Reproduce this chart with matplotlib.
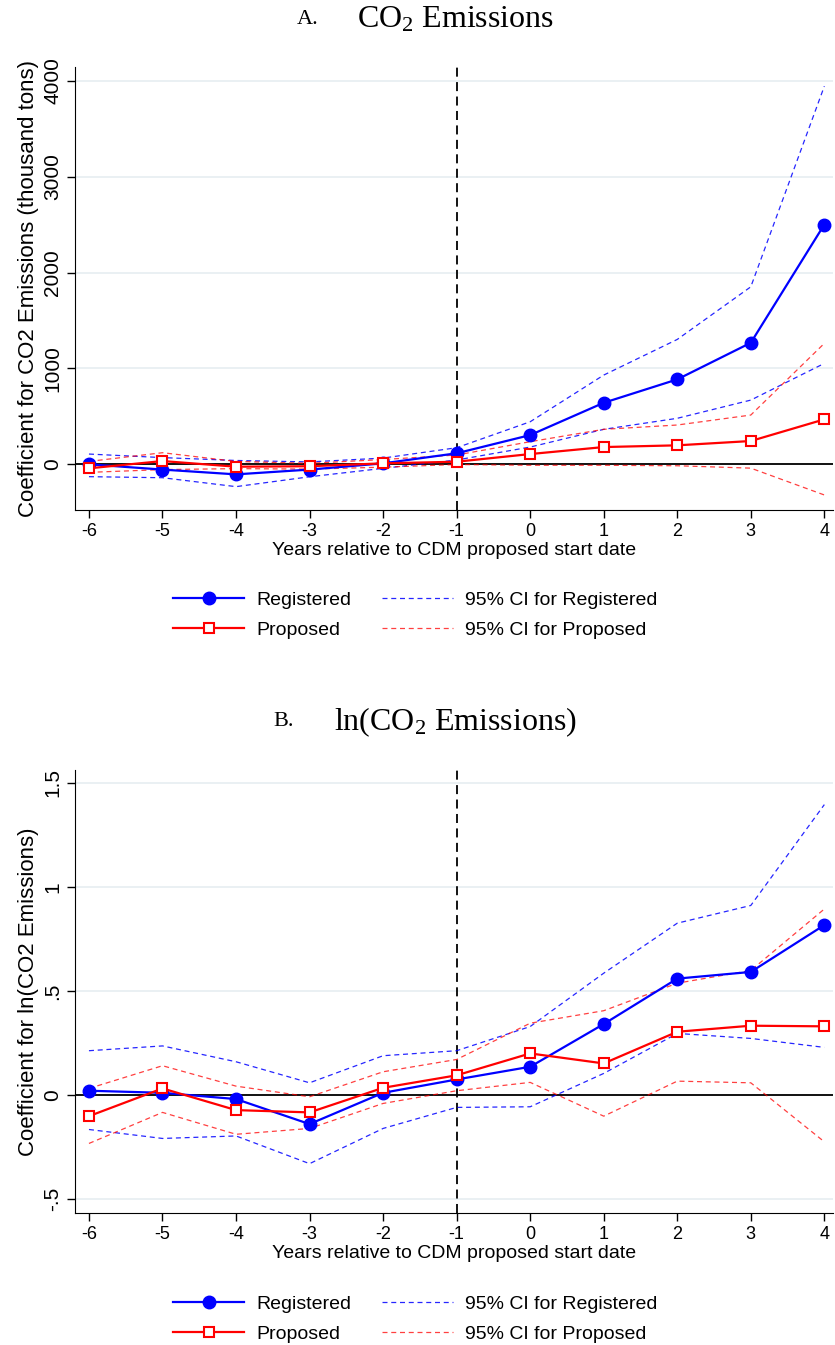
import numpy as np
import matplotlib
matplotlib.use("Agg")
import matplotlib.pyplot as plt
from matplotlib.lines import Line2D

plt.rcParams['font.family'] = ['Liberation Sans', 'DejaVu Sans']
plt.rcParams['mathtext.fontset'] = 'custom'
plt.rcParams['mathtext.rm'] = 'Liberation Serif'
plt.rcParams['mathtext.it'] = 'Liberation Serif:italic'

years = [-6, -5, -4, -3, -2, -1, 0, 1, 2, 3, 4]

# panel A: CO2 emissions, thousand tons
co2_reg = [0, -55, -105, -55, 10, 115, 305, 642, 886, 1268, 2502]
co2_reg_hi = [107, 70, 40, 25, 65, 173, 444, 931, 1303, 1852, 3945]
co2_reg_lo = [-129, -140, -233, -130, -42, 45, 180, 365, 480, 670, 1053]
co2_prop = [-42, 34, -25, -20, 10, 27, 107, 180, 198, 243, 469]
co2_prop_hi = [30, 121, 30, 10, 50, 97, 236, 365, 410, 514, 1262]
co2_prop_lo = [-84, -55, -45, -50, -30, -2, -10, -10, -15, -40, -320]

# panel B: log emissions
ln_reg = [0.021, 0.011, -0.019, -0.139, 0.011, 0.075, 0.136, 0.341, 0.559, 0.591, 0.816]
ln_reg_hi = [0.213, 0.236, 0.160, 0.059, 0.189, 0.213, 0.329, 0.585, 0.825, 0.910, 1.394]
ln_reg_lo = [-0.165, -0.208, -0.196, -0.329, -0.160, -0.059, -0.056, 0.104, 0.296, 0.272, 0.229]
ln_prop = [-0.101, 0.032, -0.072, -0.083, 0.035, 0.095, 0.200, 0.152, 0.304, 0.333, 0.330]
ln_prop_hi = [0.032, 0.141, 0.043, -0.008, 0.112, 0.171, 0.345, 0.405, 0.537, 0.598, 0.893]
ln_prop_lo = [-0.232, -0.083, -0.188, -0.160, -0.040, 0.021, 0.061, -0.101, 0.067, 0.059, -0.224]

BLUE = '#0000ff'
RED = '#ff0000'
GRID = '#e8eff2'

fig = plt.figure(figsize=(8.35, 13.45), dpi=100)
axA = fig.add_axes([0.0898, 0.6208, 0.908, 0.3292])
axB = fig.add_axes([0.0898, 0.0981, 0.908, 0.3294])


def draw_panel(ax, reg, reg_hi, reg_lo, prop, prop_hi, prop_lo, yticks, ylabels, ylim, ylabel):
    for t in yticks:
        ax.axhline(t, color=GRID, lw=1.3, zorder=0)
    ax.axhline(0, color='black', lw=1.3, zorder=1)
    ax.axvline(-1, color='black', lw=1.3, ls=(0, (5, 3)), zorder=1)
    ax.plot(years, reg_hi, color=BLUE, lw=0.9, ls=(0, (4, 3)), alpha=0.85, zorder=2)
    ax.plot(years, reg_lo, color=BLUE, lw=0.9, ls=(0, (4, 3)), alpha=0.85, zorder=2)
    ax.plot(years, prop_hi, color=RED, lw=0.9, ls=(0, (4, 3)), alpha=0.75, zorder=2)
    ax.plot(years, prop_lo, color=RED, lw=0.9, ls=(0, (4, 3)), alpha=0.75, zorder=2)
    ax.plot(years, reg, color=BLUE, lw=1.6, marker='o', ms=9, zorder=3)
    ax.plot(years, prop, color=RED, lw=1.6, marker='s', ms=7.5, mfc='white',
            mec=RED, mew=1.5, zorder=4)
    ax.set_xlim(-6.19, 4.12)
    ax.set_ylim(*ylim)
    ax.set_xticks(years)
    ax.set_xticklabels([str(y) for y in years], fontsize=13)
    ax.set_yticks(yticks)
    ax.set_yticklabels(ylabels, fontsize=15, rotation=90, va='center')
    ax.tick_params(length=6, width=1, color='black', pad=3)
    ax.spines['top'].set_visible(False)
    ax.spines['right'].set_visible(False)
    ax.set_xlabel('Years relative to CDM proposed start date', fontsize=14, labelpad=2)
    ax.set_ylabel(ylabel, fontsize=16, labelpad=3)


draw_panel(axA, co2_reg, co2_reg_hi, co2_reg_lo, co2_prop, co2_prop_hi, co2_prop_lo,
           [0, 1000, 2000, 3000, 4000], ['0', '1000', '2000', '3000', '4000'],
           (-477, 4143), 'Coefficient for CO2 Emissions (thousand tons)')
draw_panel(axB, ln_reg, ln_reg_hi, ln_reg_lo, ln_prop, ln_prop_hi, ln_prop_lo,
           [-0.5, 0, 0.5, 1, 1.5], ['-.5', '0', '.5', '1', '1.5'],
           (-0.566, 1.56), 'Coefficient for ln(CO2 Emissions)')

handles = [
    Line2D([], [], color=BLUE, lw=1.6, marker='o', ms=9),
    Line2D([], [], color=RED, lw=1.6, marker='s', ms=7.5, mfc='white', mec=RED, mew=1.5),
    Line2D([], [], color=BLUE, lw=0.9, ls=(0, (4, 3)), alpha=0.85),
    Line2D([], [], color=RED, lw=0.9, ls=(0, (4, 3)), alpha=0.75),
]
labels = ['Registered', 'Proposed', '95% CI for Registered', '95% CI for Proposed']
for ytop in (1 - 574 / 1345, 1 - 1278 / 1345):
    fig.legend(handles, labels, loc='upper center', bbox_to_anchor=(0.4976, ytop),
               ncol=2, frameon=False, fontsize=14, handlelength=3.65,
               handletextpad=0.62, columnspacing=1.6, labelspacing=0.62)

# panel titles
title_kw = dict(family=['Liberation Serif', 'DejaVu Serif'], va='center')
fig.text(0.369, 1 - 20 / 1345, 'A.', fontsize=16, ha='center', **title_kw)
fig.text(0.545, 1 - 20 / 1345, r'CO$_2$ Emissions', fontsize=23, ha='center', **title_kw)
fig.text(0.340, 1 - 722 / 1345, 'B.', fontsize=16, ha='center', **title_kw)
fig.text(0.545, 1 - 722 / 1345, r'ln(CO$_2$ Emissions)', fontsize=23, ha='center', **title_kw)

fig.savefig('out.png', dpi=100)
